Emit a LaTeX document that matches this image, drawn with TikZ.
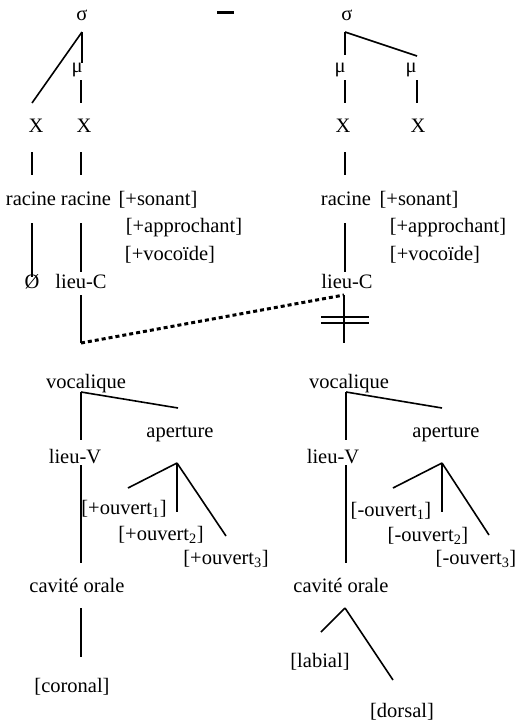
\documentclass[tikz,border=0pt]{standalone}
\usepackage{fontspec}
\setmainfont{Liberation Serif}
\begin{document}
\begin{tikzpicture}[x=1pt,y=-1pt,
    lbl/.style={inner sep=0pt,anchor=base,font=\fontsize{20.5}{25}\selectfont},
    br/.style={line width=1.6pt},
    link/.style={line width=3pt,dash pattern=on 4pt off 3pt},
    cut/.style={line width=1.4pt}]
  \useasboundingbox (0,0) rectangle (517,724);
  % left structure
  \node[lbl] (sigL) at (82,20) {σ};
  \node[lbl] (muL) at (77,72) {μ};
  \node[lbl] (xL1) at (36,132) {X};
  \node[lbl] (xL2) at (84,132) {X};
  \node[lbl] (racL1) at (31,205) {racine};
  \node[lbl] (racL2) at (86,205) {racine};
  \node[lbl] (sonL) at (158,205) {[+sonant]};
  \node[lbl] (appL) at (184,232) {[+approchant]};
  \node[lbl] (vocoL) at (170,260) {[+vocoïde]};
  \node[lbl] (nulL) at (32,288) {Ø};
  \node[lbl] (lieuCL) at (81,288) {lieu-C};
  \node[lbl] (vocL) at (86,388) {vocalique};
  \node[lbl] (apL) at (180,437) {aperture};
  \node[lbl] (lieuVL) at (75,463) {lieu-V};
  \node[lbl] (ouvL1) at (124,514) {[+ouvert\textsubscript{1}]};
  \node[lbl] (ouvL2) at (161,540) {[+ouvert\textsubscript{2}]};
  \node[lbl] (ouvL3) at (226,564) {[+ouvert\textsubscript{3}]};
  \node[lbl] (cavL) at (77,592) {cavité orale};
  \node[lbl] (corL) at (72,692) {[coronal]};
  % right structure
  \node[lbl] (sigR) at (347,20) {σ};
  \node[lbl] (muR1) at (340,72) {μ};
  \node[lbl] (muR2) at (411,72) {μ};
  \node[lbl] (xR1) at (343,132) {X};
  \node[lbl] (xR2) at (418,132) {X};
  \node[lbl] (racR) at (346,205) {racine};
  \node[lbl] (sonR) at (419,205) {[+sonant]};
  \node[lbl] (appR) at (448,232) {[+approchant]};
  \node[lbl] (vocoR) at (435,260) {[+vocoïde]};
  \node[lbl] (lieuCR) at (347,288) {lieu-C};
  \node[lbl] (vocR) at (349,388) {vocalique};
  \node[lbl] (apR) at (446,437) {aperture};
  \node[lbl] (lieuVR) at (333,463) {lieu-V};
  \node[lbl] (ouvR1) at (391,516) {[-ouvert\textsubscript{1}]};
  \node[lbl] (ouvR2) at (428,541) {[-ouvert\textsubscript{2}]};
  \node[lbl] (ouvR3) at (476,564) {[-ouvert\textsubscript{3}]};
  \node[lbl] (cavR) at (341,592) {cavité orale};
  \node[lbl] (labR) at (320,667) {[labial]};
  \node[lbl] (dorR) at (402,717) {[dorsal]};
  % dash between the two
  \coordinate (dashW) at (217,12); \coordinate (dashE) at (234,12);
  \draw[line width=3pt] (dashW)--(dashE);
  % attachment points, left
  \coordinate (sigLb) at (82,32);
  \coordinate (muLt) at (82,63); \coordinate (muLb) at (81,80);
  \coordinate (xL1t) at (32,103); \coordinate (xL2t) at (81,103);
  \coordinate (xL1b) at (32,152); \coordinate (xL2b) at (81,152);
  \coordinate (racL1t) at (32,175); \coordinate (racL2t) at (81,175);
  \coordinate (racL1b) at (32,223); \coordinate (racL2b) at (81,223);
  \coordinate (nulLt) at (32,277); \coordinate (lieuCLt) at (81,272);
  \coordinate (lieuCLb) at (81,295); \coordinate (lieuCLe) at (81,343);
  \coordinate (vocLb) at (81,392); \coordinate (lieuVLt) at (81,440);
  \coordinate (apLt) at (178,408);
  \coordinate (lieuVLb) at (81,465); \coordinate (cavLt) at (81,563);
  \coordinate (apLb) at (177,463); \coordinate (ouvL1t) at (128,488);
  \coordinate (ouvL2t) at (177,512); \coordinate (ouvL3t) at (226,536);
  \coordinate (cavLb) at (81,608); \coordinate (corLt) at (81,657);
  % attachment points, right
  \coordinate (sigRb) at (345,32);
  \coordinate (muR1t) at (345,55); \coordinate (muR2t) at (417,56);
  \coordinate (muR1b) at (345,80); \coordinate (muR2b) at (417,80);
  \coordinate (xR1t) at (345,103); \coordinate (xR2t) at (417,103);
  \coordinate (xR1b) at (345,152); \coordinate (racRt) at (345,175);
  \coordinate (racRb) at (345,223); \coordinate (lieuCRt) at (345,272);
  \coordinate (lieuCRb) at (344,295); \coordinate (lieuCRe) at (344,343);
  \coordinate (cutW1) at (321,317); \coordinate (cutE1) at (369,317);
  \coordinate (cutW2) at (321,323); \coordinate (cutE2) at (369,323);
  \coordinate (vocRb) at (346,392); \coordinate (lieuVRt) at (346,440);
  \coordinate (apRt) at (442,408);
  \coordinate (lieuVRb) at (346,465); \coordinate (cavRt) at (346,563);
  \coordinate (apRb) at (442,463); \coordinate (ouvR1t) at (393,488);
  \coordinate (ouvR2t) at (442,512); \coordinate (ouvR3t) at (489,535);
  \coordinate (cavRb) at (345,608); \coordinate (labRt) at (321,632);
  \coordinate (dorRt) at (393,680);
  % branches, left
  \draw[br] (sigLb)--(xL1t); \draw[br] (sigLb)--(muLt); \draw[br] (muLb)--(xL2t);
  \draw[br] (xL1b)--(racL1t); \draw[br] (xL2b)--(racL2t);
  \draw[br] (racL1b)--(nulLt); \draw[br] (racL2b)--(lieuCLt);
  \draw[br] (lieuCLb)--(lieuCLe);
  \draw[br] (vocLb)--(lieuVLt); \draw[br] (vocLb)--(apLt);
  \draw[br] (lieuVLb)--(cavLt);
  \draw[br] (apLb)--(ouvL1t); \draw[br] (apLb)--(ouvL2t); \draw[br] (apLb)--(ouvL3t);
  \draw[br] (cavLb)--(corLt);
  % branches, right
  \draw[br] (sigRb)--(muR1t); \draw[br] (sigRb)--(muR2t);
  \draw[br] (muR1b)--(xR1t); \draw[br] (muR2b)--(xR2t);
  \draw[br] (xR1b)--(racRt); \draw[br] (racRb)--(lieuCRt);
  \draw[br] (lieuCRb)--(lieuCRe);
  \draw[cut] (cutW1)--(cutE1); \draw[cut] (cutW2)--(cutE2);
  \draw[br] (vocRb)--(lieuVRt); \draw[br] (vocRb)--(apRt);
  \draw[br] (lieuVRb)--(cavRt);
  \draw[br] (apRb)--(ouvR1t); \draw[br] (apRb)--(ouvR2t); \draw[br] (apRb)--(ouvR3t);
  \draw[br] (cavRb)--(labRt); \draw[br] (cavRb)--(dorRt);
  % spreading of lieu-C
  \draw[link] (lieuCLe)--(lieuCRb);
\end{tikzpicture}
\end{document}
